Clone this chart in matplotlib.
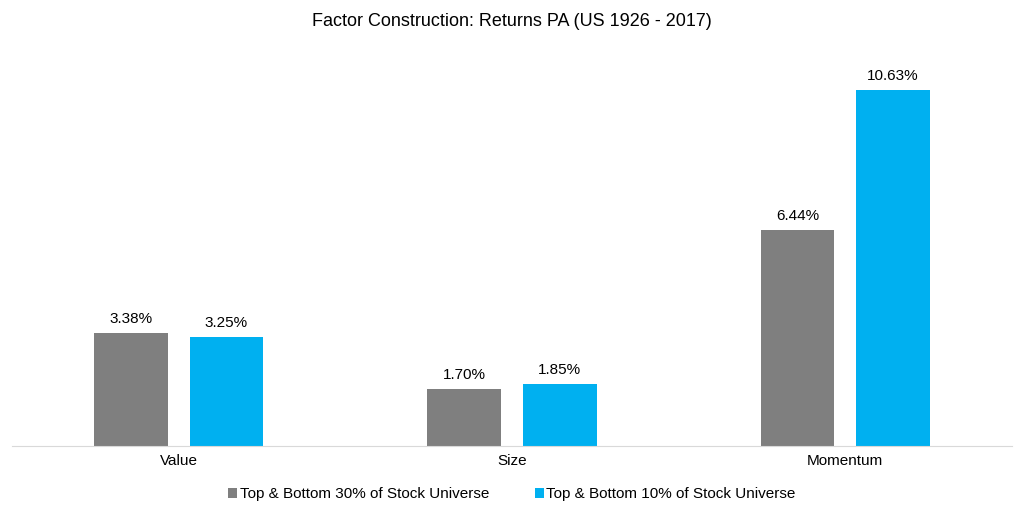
import numpy as np
import matplotlib.pyplot as plt

plt.rcParams['font.family'] = ['Liberation Sans', 'DejaVu Sans']

factors = ['Value', 'Size', 'Momentum']
top_bottom_30 = [3.38, 1.70, 6.44]
top_bottom_10 = [3.25, 1.85, 10.63]
series_names = ['Top & Bottom 30% of Stock Universe', 'Top & Bottom 10% of Stock Universe']

fig = plt.figure(figsize=(10.24, 5.12), dpi=100)
ax = fig.add_axes([0.012, 0.129, 0.976, 0.785])

x = np.arange(len(factors))
w = 0.222
off = 0.143
b1 = ax.bar(x - off, top_bottom_30, w, color='#7F7F7F', label=series_names[0])
b2 = ax.bar(x + off, top_bottom_10, w, color='#00B0F0', label=series_names[1])

for bars in (b1, b2):
    for rect in bars:
        h = rect.get_height()
        ax.annotate(f'{h:.2f}%', (rect.get_x() + rect.get_width() / 2, h),
                    xytext=(0, 5), textcoords='offset points',
                    ha='center', va='bottom', fontsize=11, color='#000000')

ax.set_xlim(-0.5, 2.5)
ax.set_ylim(0, 12)
ax.set_xticks(x)
ax.set_xticklabels(factors, fontsize=11)
ax.tick_params(axis='x', length=0, pad=6)
ax.set_yticks([])
for s in ['top', 'right', 'left']:
    ax.spines[s].set_visible(False)
ax.spines['bottom'].set_color('#D9D9D9')

fig.suptitle('Factor Construction: Returns PA (US 1926 - 2017)', fontsize=13, y=0.975)
fig.legend(handles=[b1, b2], loc='lower center', bbox_to_anchor=(0.5, -0.006), ncol=2,
           frameon=False, fontsize=11, handlelength=0.6, handleheight=0.6,
           handletextpad=0.15, columnspacing=3.0)

fig.savefig('out.png', dpi=100)
